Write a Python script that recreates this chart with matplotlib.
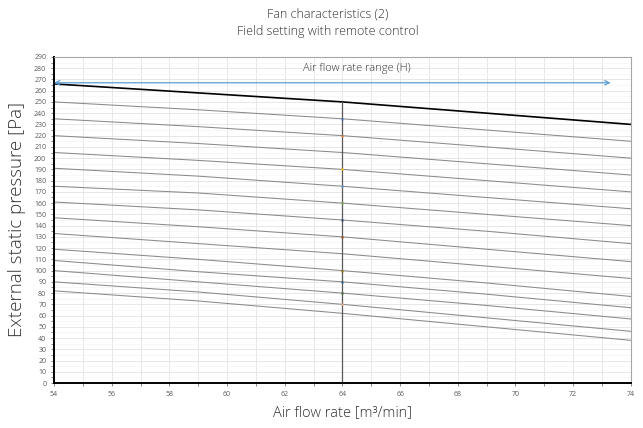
import numpy as np
import matplotlib.pyplot as plt

plt.rcParams['font.family'] = ['Open Sans', 'DejaVu Sans']

# air flow rate sample points [m3/min]
flow = [54, 59, 64, 69, 74]

# top curve (H limit)
top_curve = [266, 258, 250, 240, 230]

# fan curves for the field settings, read at the flow points above
p54 = [250, 235, 220, 205, 191, 175, 161, 147, 133, 119, 109, 100, 90, 82]
p59 = [243, 228, 213, 198, 184, 169, 154, 139, 124, 110, 99, 90, 81, 73]
p64 = [235, 220, 205, 190, 175, 160, 145, 130, 115, 100, 90, 80, 70, 62]
p69 = [225, 210, 195, 180, 165, 150, 135, 119, 104, 89, 79, 69, 58, 50]
p74 = [215, 200, 185, 170, 155, 140, 124, 108, 93, 77, 67, 57, 46, 38]

# marker colours at 64 m3/min (one per curve, None = no visible marker)
mark_colors = ['#4472C4', '#ED7D31', None, '#FFC000', '#5B9BD5', '#70AD47',
               '#264478', '#9E480E', None, '#997300', '#255E91', '#43682B', '#F4B183', None]

rated_flow = 64
rated_press = 250
range_min, range_max, range_press = 54, 73.3, 267

fig = plt.figure(figsize=(6.43, 4.28), dpi=100)
ax = fig.add_axes([0.084, 0.105, 0.897, 0.762])

# grid
ax.set_xlim(54, 74)
ax.set_ylim(0, 290)
ax.set_xticks(np.arange(54, 75, 2))
ax.set_xticks(np.arange(54, 75, 1), minor=True)
ax.set_yticks(np.arange(0, 291, 10))
ax.set_yticks(np.arange(0, 291, 5), minor=True)
ax.grid(which='major', axis='both', color='#e3e3e3', lw=0.6)
ax.grid(which='minor', axis='x', color='#e3e3e3', lw=0.6)
ax.grid(which='minor', axis='y', color='#f4f4f4', lw=0.5)
ax.set_axisbelow(True)

# fan curves
table = np.array([p54, p59, p64, p69, p74])
for i in range(table.shape[1]):
    ax.plot(flow, table[:, i], color='#8a8a8a', lw=0.75)
ax.plot(flow, top_curve, color='black', lw=1.2)

# rated flow line
ax.plot([rated_flow, rated_flow], [0, rated_press], color='#595959', lw=0.9)
for v, c in zip(p64, mark_colors):
    if c:
        ax.plot(rated_flow, v, 's', ms=1.8, color=c, mec='none')

# air flow range arrow
ax.annotate('', xy=(range_max, range_press), xytext=(range_min, range_press),
            arrowprops=dict(arrowstyle='<->', color='#5B9BD5', lw=0.9,
                            shrinkA=0, shrinkB=0, mutation_scale=8))
ax.text(64.5, 280, 'Air flow rate range (H)', ha='center', va='center',
        fontsize=8, color='#333333', fontweight='light')

# axes styling
for s in ['top', 'right']:
    ax.spines[s].set_color('#a6a6a6')
    ax.spines[s].set_linewidth(0.8)
for s in ['left', 'bottom']:
    ax.spines[s].set_color('black')
    ax.spines[s].set_linewidth(1.4)
ax.tick_params(which='both', labelsize=5, colors='#595959', length=2, width=0.5)
ax.tick_params(which='minor', labelsize=0)

ax.set_xlabel('Air flow rate [m³/min]', fontsize=10.5, color='#333333',
              labelpad=5, fontweight='light')
ax.set_ylabel('External static pressure [Pa]', fontsize=13.5, color='#333333',
              labelpad=6, fontweight='light')

fig.text(0.51, 0.967, 'Fan characteristics (2)', ha='center', va='center',
         fontsize=9, color='#333333', fontweight='light')
fig.text(0.51, 0.927, 'Field setting with remote control', ha='center', va='center',
         fontsize=9, color='#333333', fontweight='light')

fig.savefig('out.png', dpi=100)
